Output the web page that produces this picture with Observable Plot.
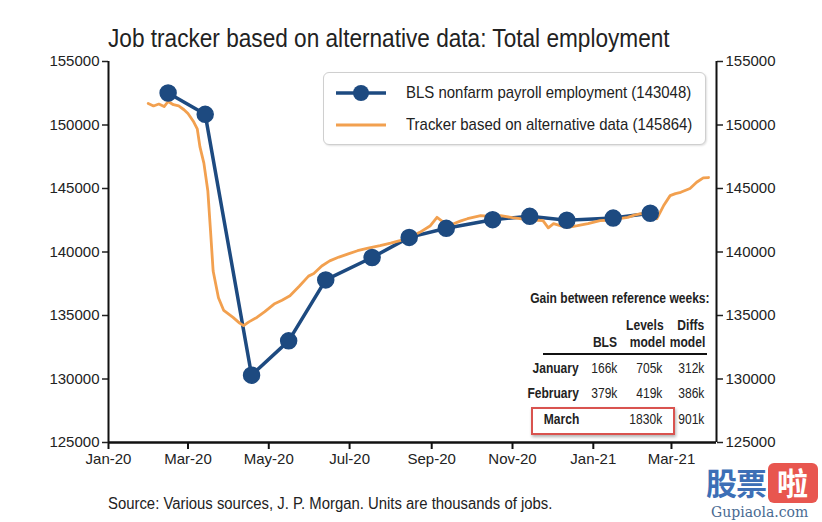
<!DOCTYPE html>
<html><head><meta charset="utf-8">
<script src="https://cdn.jsdelivr.net/npm/d3@7"></script>
<script src="https://cdn.jsdelivr.net/npm/@observablehq/plot@0.6"></script>
<style>
body{margin:0;background:#fff;}
#wrap{position:relative;width:822px;height:522px;overflow:hidden;font-family:"Liberation Sans",Arial,sans-serif;color:#1a1a1a;}
#wrap > svg{position:absolute;left:0;top:0;}
.abs{position:absolute;white-space:nowrap;line-height:1;}
#title{left:108px;top:25px;font-size:26px;color:#222;transform:scaleX(0.87);transform-origin:left top;}
#caption{left:108px;top:496px;font-size:16px;color:#222;transform:scaleX(0.93);transform-origin:left top;}
#legend{left:323px;top:72px;width:381px;height:71px;border:1.5px solid #cfcfcf;border-radius:6px;box-shadow:1px 1px 2px rgba(0,0,0,0.12);background:#fff;}
.leg{position:absolute;left:10px;height:22px;}
.leg svg{position:absolute;left:0;top:0;}
.legt{position:absolute;left:72px;top:2px;font-size:17px;white-space:nowrap;line-height:1;color:#222;transform:scaleX(0.88);transform-origin:left top;}
.tb{position:absolute;white-space:nowrap;line-height:1;font-size:14px;color:#222;transform:scaleX(0.86);transform-origin:right top;}
.b{font-weight:bold;}
#redbox{left:531px;top:407px;width:140px;height:24px;border:2px solid #d9534f;box-shadow:1px 2px 3px rgba(0,0,0,0.3);}
#wm1{left:706px;top:466px;font-family:"Noto Sans CJK SC",sans-serif;font-weight:bold;font-size:31px;color:#3d6fb6;letter-spacing:-1px;}
#wm2{left:768px;top:463px;width:50px;height:40px;background:#e8564f;border-radius:6px;}
#wm3{left:777px;top:466px;font-family:"Noto Sans CJK SC",sans-serif;font-weight:bold;font-size:31px;color:#fff;}
#wm4{left:711px;top:505px;font-family:"DejaVu Serif",serif;font-size:14px;color:#4a6b92;}
</style></head><body><div id="wrap"></div>
<script>
// BLS nonfarm payroll employment (thousands), plotted at end of reference week
const blsDates = ["2020-02-15","2020-03-14","2020-04-18","2020-05-16","2020-06-13","2020-07-18","2020-08-15","2020-09-12","2020-10-17","2020-11-14","2020-12-12","2021-01-16","2021-02-13"];
const blsValues = [152523,150840,130303,133002,137802,139566,141149,141865,142545,142809,142503,142669,143048];

// Tracker based on alternative data (thousands)
const trackerDates = ["2020-01-31","2020-02-04","2020-02-08","2020-02-12","2020-02-15","2020-02-19","2020-02-23","2020-02-27","2020-03-01","2020-03-05","2020-03-08","2020-03-10","2020-03-13","2020-03-16","2020-03-18","2020-03-20","2020-03-24","2020-03-28","2020-04-04","2020-04-09","2020-04-12","2020-04-16","2020-04-22","2020-04-28","2020-05-05","2020-05-11","2020-05-17","2020-05-24","2020-05-31","2020-06-04","2020-06-10","2020-06-16","2020-06-23","2020-06-30","2020-07-07","2020-07-15","2020-07-24","2020-08-01","2020-08-08","2020-08-16","2020-08-23","2020-08-31","2020-09-05","2020-09-10","2020-09-17","2020-09-23","2020-09-28","2020-10-08","2020-10-16","2020-10-23","2020-11-01","2020-11-08","2020-11-14","2020-11-20","2020-11-24","2020-11-28","2020-12-02","2020-12-07","2020-12-12","2020-12-16","2020-12-20","2020-12-28","2021-01-06","2021-01-11","2021-01-16","2021-01-22","2021-01-27","2021-02-01","2021-02-06","2021-02-10","2021-02-14","2021-02-18","2021-02-23","2021-02-28","2021-03-04","2021-03-08","2021-03-15","2021-03-20","2021-03-25","2021-03-29"];
const trackerValues = [151700,151500,151650,151450,151850,151600,151500,151200,150900,150300,149700,148300,147000,144800,141700,138500,136400,135400,134850,134400,134200,134500,134850,135300,135900,136200,136550,137300,138100,138300,138900,139300,139600,139850,140100,140300,140500,140700,140900,141200,141550,142070,142730,142330,142200,142450,142620,142860,142800,142860,142700,142600,142550,142500,142470,141900,142230,142070,141940,142000,142070,142230,142470,142500,142620,142650,142730,142900,143020,143000,143120,142620,143640,144440,144600,144700,145000,145490,145840,145864];

const yTicks = [125000,130000,135000,140000,145000,150000,155000];
const xTickDates = ["2020-01-01","2020-03-01","2020-05-01","2020-07-01","2020-09-01","2020-11-01","2021-01-01","2021-03-01"];
const xDomainDates = ["2020-01-01","2021-04-04"];
const yDomain = [125000,155000];

const legendLabels = ["BLS nonfarm payroll employment (143048)","Tracker based on alternative data (145864)"];
const tableTitle = "Gain between reference weeks:";
const tableHeadTop = ["", "Levels", "Diffs"];
const tableHeadBottom = ["BLS", "model", "model"];
const tableMonths = ["January","February","March"];
const blsGain = ["166k","379k",""];
const levelsGain = ["705k","419k","1830k"];
const diffsGain = ["312k","386k","901k"];

const titleText = "Job tracker based on alternative data: Total employment";
const captionText = "Source: Various sources, J. P. Morgan. Units are thousands of jobs.";

const navy = "#1d4a80", orange = "#f2a04f";
const P = s => new Date(s);
const bls = blsDates.map((d,i)=>({date:P(d), value:blsValues[i]}));
const tracker = trackerDates.map((d,i)=>({date:P(d), value:trackerValues[i]}));
const xDomain = xDomainDates.map(P);
const fmtX = d3.utcFormat("%b-%y");

const chart = Plot.plot({
  width: 822, height: 522,
  marginLeft: 108, marginRight: 106, marginTop: 61, marginBottom: 80,
  style: {fontFamily: '"Liberation Sans",Arial,sans-serif', fontSize: "15px", color: "#222", background: "transparent"},
  x: {type: "utc", domain: xDomain, label: null},
  y: {domain: yDomain, label: null},
  marks: [
    Plot.axisX({ticks: xTickDates.map(P), tickFormat: fmtX, tickSize: 7, tickPadding: 4, strokeWidth: 2, stroke: "#111", fontSize: 15, label: null}),
    Plot.axisY({anchor: "left", ticks: yTicks, tickFormat: d => String(d), tickSize: 6, tickPadding: 3, strokeWidth: 1.5, fontSize: 15, label: null}),
    Plot.axisY({anchor: "right", ticks: yTicks, tickFormat: d => String(d), tickSize: 6, tickPadding: 3, strokeWidth: 1.5, fontSize: 15, label: null}),
    Plot.ruleX(xDomain, {stroke: "#111", strokeWidth: 2}),
    Plot.ruleY([yDomain[0]], {stroke: "#111", strokeWidth: 2.5}),
    Plot.line(bls, {x: "date", y: "value", stroke: navy, strokeWidth: 3.5}),
    Plot.line(tracker, {x: "date", y: "value", stroke: orange, strokeWidth: 2.8}),
    Plot.dot(bls, {x: "date", y: "value", r: 8, fill: navy, stroke: navy})
  ]
});

const wrap = document.getElementById("wrap");
wrap.appendChild(chart);

function addDiv(id, cls, text, style){
  const d = document.createElement("div");
  if (id) d.id = id;
  if (cls) d.className = cls;
  if (text != null) d.textContent = text;
  if (style) Object.assign(d.style, style);
  return d;
}
wrap.appendChild(addDiv("title","abs",titleText));
wrap.appendChild(addDiv("caption","abs",captionText));

// legend
const leg = addDiv("legend","abs",null);
const legColors = [navy, orange];
const ns = "http://www.w3.org/2000/svg";
legendLabels.forEach((lab,i)=>{
  const row = addDiv(null,"leg",null,{top:(i===0?9:41)+"px"});
  const s = document.createElementNS(ns,"svg");
  s.setAttribute("width","56"); s.setAttribute("height","22");
  const l = document.createElementNS(ns,"line");
  l.setAttribute("x1","2");l.setAttribute("x2","52");l.setAttribute("y1","11");l.setAttribute("y2","11");
  l.setAttribute("stroke",legColors[i]);l.setAttribute("stroke-width", i===0?"3.5":"3");
  s.appendChild(l);
  if(i===0){const c=document.createElementNS(ns,"circle");c.setAttribute("cx","27");c.setAttribute("cy","11");c.setAttribute("r","8");c.setAttribute("fill",navy);s.appendChild(c);}
  row.appendChild(s);
  row.appendChild(addDiv(null,"legt",lab));
  leg.appendChild(row);
});
wrap.appendChild(leg);

// table
function tcell(text, rightX, topY, bold){
  if (!text) return;
  wrap.appendChild(addDiv(null,"tb"+(bold?" b":""),text,{right:(822-rightX)+"px",top:topY+"px"}));
}
const colRight = [617, 664, 704];
tcell(tableTitle, 710, 291, true);
tableHeadTop.forEach((t,j)=>tcell(t, colRight[j], 318, true));
tableHeadBottom.forEach((t,j)=>tcell(t, colRight[j]+(j===0?0:1), 335, true));
wrap.appendChild(addDiv(null,"abs",null,{left:"543px",top:"353px",width:"164px",height:"0",borderTop:"2px solid #111"}));
const rowTops = [361,386,412];
tableMonths.forEach((m,i)=>{
  tcell(m, 579, rowTops[i], true);
  tcell(blsGain[i], colRight[0], rowTops[i], false);
  tcell(levelsGain[i], colRight[1]-2, rowTops[i], false);
  tcell(diffsGain[i], colRight[2], rowTops[i], false);
});
wrap.appendChild(addDiv("redbox","abs",null));

// watermark
wrap.appendChild(addDiv("wm1","abs","股票"));
wrap.appendChild(addDiv("wm2","abs",null));
wrap.appendChild(addDiv("wm3","abs","啦"));
wrap.appendChild(addDiv("wm4","abs","Gupiaola.com"));
</script>
</body></html>
